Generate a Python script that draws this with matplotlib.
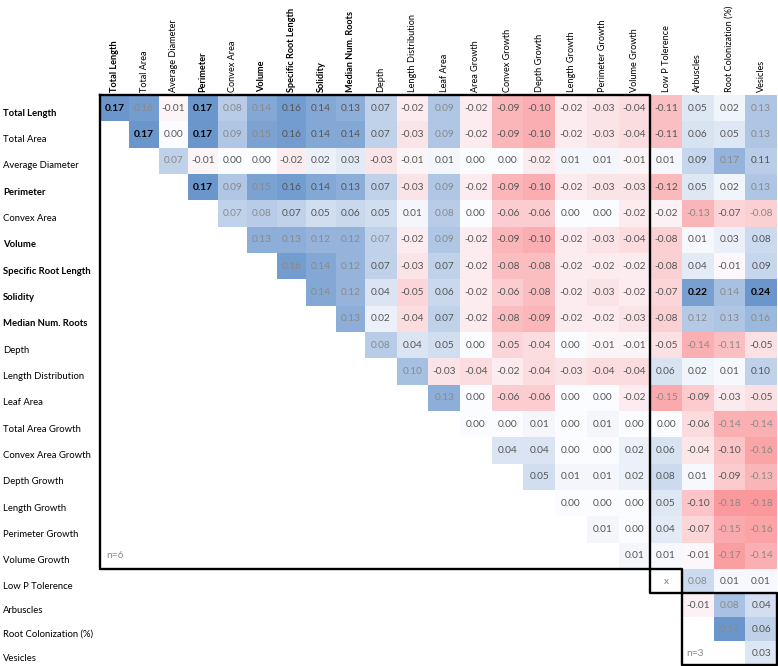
import numpy as np
import matplotlib.pyplot as plt
from matplotlib import transforms
from matplotlib.colors import LinearSegmentedColormap, Normalize

plt.rcParams['font.family'] = ['Lato', 'DejaVu Sans']

col_labels = ["Total Length", "Total Area", "Average Diameter", "Perimeter", "Convex Area",
              "Volume", "Specific Root Length", "Solidity", "Median Num. Roots", "Depth",
              "Length Distribution", "Leaf Area", "Area Growth", "Convex Growth", "Depth Growth",
              "Length Growth", "Perimeter Growth", "Volume Growth", "Low P Tolerence",
              "Arbuscles", "Root Colonization (%)", "Vesicles"]
row_labels = ["Total Length", "Total Area", "Average Diameter", "Perimeter", "Convex Area",
              "Volume", "Specific Root Length", "Solidity", "Median Num. Roots", "Depth",
              "Length Distribution", "Leaf Area", "Total Area Growth", "Convex Area Growth",
              "Depth Growth", "Length Growth", "Perimeter Growth", "Volume Growth",
              "Low P Tolerence", "Arbuscles", "Root Colonization (%)", "Vesicles"]
bold_traits = ["Total Length", "Perimeter", "Volume", "Specific Root Length", "Solidity",
               "Median Num. Roots"]

# upper triangle, each row starts at the diagonal; None = "x"
rows = [
    [0.17, 0.16, -0.01, 0.17, 0.08, 0.14, 0.16, 0.14, 0.13, 0.07, -0.02, 0.09, -0.02, -0.09, -0.10, -0.02, -0.03, -0.04, -0.11, 0.05, 0.02, 0.13],
    [0.17, 0.00, 0.17, 0.09, 0.15, 0.16, 0.14, 0.14, 0.07, -0.03, 0.09, -0.02, -0.09, -0.10, -0.02, -0.03, -0.04, -0.11, 0.06, 0.05, 0.13],
    [0.07, -0.01, 0.00, 0.00, -0.02, 0.02, 0.03, -0.03, -0.01, 0.01, 0.00, 0.00, -0.02, 0.01, 0.01, -0.01, 0.01, 0.09, 0.17, 0.11],
    [0.17, 0.09, 0.15, 0.16, 0.14, 0.13, 0.07, -0.03, 0.09, -0.02, -0.09, -0.10, -0.02, -0.03, -0.03, -0.12, 0.05, 0.02, 0.13],
    [0.07, 0.08, 0.07, 0.05, 0.06, 0.05, 0.01, 0.08, 0.00, -0.06, -0.06, 0.00, 0.00, -0.02, -0.02, -0.13, -0.07, -0.08],
    [0.13, 0.13, 0.12, 0.12, 0.07, -0.02, 0.09, -0.02, -0.09, -0.10, -0.02, -0.03, -0.04, -0.08, 0.01, 0.03, 0.08],
    [0.16, 0.14, 0.12, 0.07, -0.03, 0.07, -0.02, -0.08, -0.08, -0.02, -0.02, -0.02, -0.08, 0.04, -0.01, 0.09],
    [0.14, 0.12, 0.04, -0.05, 0.06, -0.02, -0.06, -0.08, -0.02, -0.03, -0.02, -0.07, 0.22, 0.14, 0.24],
    [0.13, 0.02, -0.04, 0.07, -0.02, -0.08, -0.09, -0.02, -0.02, -0.03, -0.08, 0.12, 0.13, 0.16],
    [0.08, 0.04, 0.05, 0.00, -0.05, -0.04, 0.00, -0.01, -0.01, -0.05, -0.14, -0.11, -0.05],
    [0.10, -0.03, -0.04, -0.02, -0.04, -0.03, -0.04, -0.04, 0.06, 0.02, 0.01, 0.10],
    [0.13, 0.00, -0.06, -0.06, 0.00, 0.00, -0.02, -0.15, -0.09, -0.03, -0.05],
    [0.00, 0.00, 0.01, 0.00, 0.01, 0.00, 0.00, -0.06, -0.14, -0.14],
    [0.04, 0.04, 0.00, 0.00, 0.02, 0.06, -0.04, -0.10, -0.16],
    [0.05, 0.01, 0.01, 0.02, 0.08, 0.01, -0.09, -0.13],
    [0.00, 0.00, 0.00, 0.05, -0.10, -0.18, -0.18],
    [0.01, 0.00, 0.04, -0.07, -0.15, -0.16],
    [0.01, 0.01, -0.01, -0.17, -0.14],
    [None, 0.08, 0.01, 0.01],
    [-0.01, 0.08, 0.04],
    [0.14, 0.06],
    [0.03],
]
n_labels = ["n=6", "n=3"]

# (row, col) 1-based cells printed in black bold / lighter grey
bold_cells = [(1, 1), (1, 4), (2, 2), (2, 4), (4, 4), (8, 20), (8, 22)]
light_cells = [(1, 2), (1, 5), (1, 6), (1, 12), (1, 22), (2, 5), (2, 6), (2, 12), (2, 22),
               (3, 3), (3, 21), (4, 5), (4, 6), (4, 12), (4, 22), (5, 5), (5, 6), (5, 12),
               (5, 20), (5, 22), (6, 6), (6, 7), (6, 8), (6, 9), (6, 10), (6, 12), (7, 7),
               (7, 8), (7, 9), (8, 8), (8, 9), (8, 21), (9, 9), (9, 20), (9, 21), (9, 22),
               (10, 10), (10, 20), (10, 21), (11, 11), (12, 12), (12, 19), (13, 21), (13, 22),
               (14, 22), (15, 22), (16, 21), (16, 22), (17, 21), (17, 22), (18, 21), (18, 22),
               (19, 20), (20, 21), (21, 21)]

n = len(col_labels)
M = np.full((n, n), np.nan)
for i, r in enumerate(rows):
    for k, v in enumerate(r):
        if v is not None:
            M[i, i + k] = v

# uneven column widths / row heights like the spreadsheet
col_w = np.array([1.0] * 9 + [1.076] * 13)
row_h = np.array([1.0] * 18 + [0.911] * 4)
xe = np.concatenate([[0], np.cumsum(col_w)])
ye = np.concatenate([[0], np.cumsum(row_h)])
xc = (xe[:-1] + xe[1:]) / 2
yc = (ye[:-1] + ye[1:]) / 2

cmap = LinearSegmentedColormap.from_list("bwr_xl", ["#F8696B", "#FCFCFF", "#5A8AC6"])

fig = plt.figure(figsize=(7.78, 6.66), dpi=100)
ax = fig.add_axes([100 / 778, 1 / 666, 677 / 778, 570 / 666])

rr, cc = np.meshgrid(np.arange(n), np.arange(n), indexing="ij")
regions = [(rr < 18) & (cc < 18),
           (rr < 19) & (cc >= 18),
           (rr >= 19) & (cc >= 19)]
for reg in regions:
    sub = np.where(reg, M, np.nan)
    vmax = np.nanmax(np.abs(sub)) * 1.12
    ax.pcolormesh(xe, ye, np.ma.masked_invalid(sub), cmap=cmap,
                  norm=Normalize(-vmax, vmax), shading="flat")

ax.set_xlim(xe[0], xe[-1])
ax.set_ylim(ye[-1], ye[0])
ax.set_xticks([])
ax.set_yticks([])
for s in ax.spines.values():
    s.set_visible(False)

for i, r in enumerate(rows):
    for k, v in enumerate(r):
        j = i + k
        if v is None:
            ax.text(xc[j], yc[i], "x", ha="center", va="center", fontsize=7.3, color="#7f7f7f")
            continue
        cell = (i + 1, j + 1)
        if cell in bold_cells:
            color, weight = "black", "bold"
        elif cell in light_cells:
            color, weight = "#8a8a8a", "normal"
        else:
            color, weight = "#555555", "normal"
        ax.text(xc[j], yc[i], f"{v:.2f}", ha="center", va="center",
                fontsize=7.3, color=color, fontweight=weight)

ax.text(xe[0] + 0.2, yc[17], n_labels[0], ha="left", va="center", fontsize=7.3, color="#8a8a8a")
ax.text(xe[19] + 0.15, yc[21], n_labels[1], ha="left", va="center", fontsize=7.3, color="#8a8a8a")

# row labels on the far left
row_tr = transforms.blended_transform_factory(fig.transFigure, ax.transData) + \
    transforms.ScaledTranslation(0, -5 / 100, fig.dpi_scale_trans)
for i, lab in enumerate(row_labels):
    ax.text(3 / 778, yc[i], lab, transform=row_tr, ha="left", va="center", fontsize=6.8,
            color="black", fontweight="bold" if lab in bold_traits else "normal")

# column labels rotated above the grid
col_tr = ax.transData + transforms.ScaledTranslation(0, 3 / 100, fig.dpi_scale_trans)
for j, lab in enumerate(col_labels):
    ax.text(xc[j], 0, lab, transform=col_tr, rotation=90, ha="center", va="bottom",
            fontsize=6.6, color="black",
            fontweight="bold" if lab in bold_traits else "normal")

# outline boxes
box_kw = dict(color="black", lw=1.7, clip_on=False, solid_capstyle="projecting")
ax.plot([xe[0], xe[18], xe[18], xe[0], xe[0]], [ye[0], ye[0], ye[18], ye[18], ye[0]], **box_kw)
ax.plot([xe[18], xe[18], xe[19], xe[19], xe[18]], [ye[18], ye[19], ye[19], ye[18], ye[18]], **box_kw)
ax.plot([xe[19], xe[22], xe[22], xe[19], xe[19]], [ye[19], ye[19], ye[22], ye[22], ye[19]], **box_kw)

fig.savefig("out.png", dpi=100)
